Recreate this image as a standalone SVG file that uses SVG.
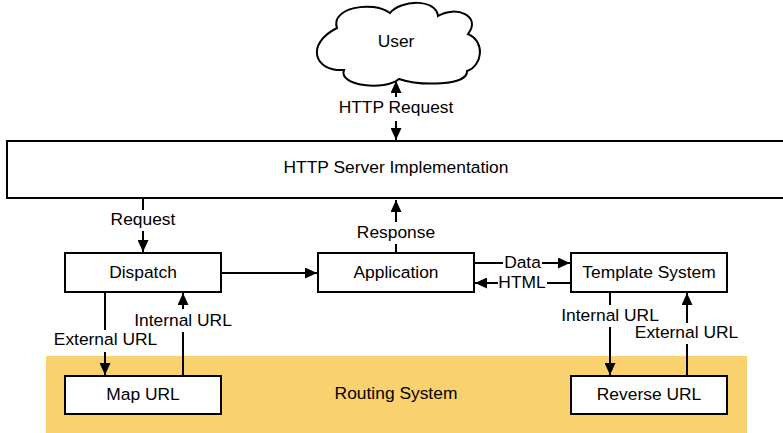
<svg xmlns="http://www.w3.org/2000/svg" width="783" height="433" viewBox="0 0 783 433">
<style>
.box{fill:#fff;stroke:#000;stroke-width:2}
.t{font-family:"Liberation Sans",Arial,sans-serif;font-size:17.4px;fill:#000;text-anchor:middle}
.ln{stroke:#000;stroke-width:2;fill:none}
.bg{fill:#fff}
</style>
<defs>
<marker id="arr" viewBox="0 0 12 11" refX="12" refY="5.5" markerWidth="12" markerHeight="11" markerUnits="userSpaceOnUse" orient="auto-start-reverse">
<path d="M0,0 L12,5.5 L0,11 z" fill="#000"/>
</marker>
</defs>
<rect width="783" height="433" fill="#fff"/>
<g id="routing-system">
<rect x="46" y="356" width="701" height="77" fill="#f9d16e"/>
<text class="t" x="396" y="399">Routing System</text>
</g>
<g id="user">
<path class="box" d="M337,28 C330,8 372,0 390,13 C400,0 436,-2 438,16 C456,5 482,16 468,34 C486,42 482,66 467,71 C468,86 420,86 399,79 C385,91 338,86 344,70 C314,72 305,44 337,28 Z"/>
<text class="t" x="396" y="47">User</text>
</g>
<g id="http-server">
<rect class="box" x="7" y="141" width="790" height="57"/>
<text class="t" x="396" y="173">HTTP Server Implementation</text>
</g>
<g id="dispatch">
<rect class="box" x="65" y="253" width="156" height="39"/>
<text class="t" x="143" y="278">Dispatch</text>
</g>
<g id="application">
<rect class="box" x="318" y="253" width="156" height="39"/>
<text class="t" x="396" y="278">Application</text>
</g>
<g id="template-system">
<rect class="box" x="571" y="253" width="156" height="39"/>
<text class="t" x="649" y="278">Template System</text>
</g>
<g id="map-url">
<rect class="box" x="65" y="376" width="156" height="38"/>
<text class="t" x="143" y="400">Map URL</text>
</g>
<g id="reverse-url">
<rect class="box" x="571" y="376" width="156" height="38"/>
<text class="t" x="649" y="400">Reverse URL</text>
</g>
<g id="connectors">
<line class="ln" x1="396" y1="81" x2="396" y2="140" marker-start="url(#arr)" marker-end="url(#arr)"/>
<rect class="bg" x="337" y="97" width="118" height="24"/>
<text class="t" x="396" y="113">HTTP Request</text>

<line class="ln" x1="143" y1="199" x2="143" y2="252" marker-end="url(#arr)"/>
<rect class="bg" x="109" y="210" width="68" height="21"/>
<text class="t" x="143" y="225">Request</text>

<line class="ln" x1="396" y1="253" x2="396" y2="200" marker-end="url(#arr)"/>
<rect class="bg" x="356" y="222" width="81" height="22"/>
<text class="t" x="396" y="238">Response</text>

<line class="ln" x1="221" y1="273" x2="317" y2="273" marker-end="url(#arr)"/>

<line class="ln" x1="474" y1="263" x2="570" y2="263" marker-end="url(#arr)"/>
<rect class="bg" x="503" y="254" width="39" height="17"/>
<text class="t" x="522.5" y="268">Data</text>

<line class="ln" x1="571" y1="283" x2="475" y2="283" marker-end="url(#arr)"/>
<rect class="bg" x="498" y="274" width="49" height="17"/>
<text class="t" x="522" y="288">HTML</text>

<line class="ln" x1="105" y1="292" x2="105" y2="375" marker-end="url(#arr)"/>
<rect class="bg" x="53" y="330" width="106" height="22"/>
<text class="t" x="105.5" y="345">External URL</text>

<line class="ln" x1="183" y1="376" x2="183" y2="293" marker-end="url(#arr)"/>
<rect class="bg" x="133" y="309" width="100" height="23"/>
<text class="t" x="183" y="326">Internal URL</text>

<line class="ln" x1="610" y1="292" x2="610" y2="375" marker-end="url(#arr)"/>
<rect class="bg" x="560" y="305" width="100" height="22"/>
<text class="t" x="610" y="321">Internal URL</text>

<line class="ln" x1="687" y1="376" x2="687" y2="293" marker-end="url(#arr)"/>
<rect class="bg" x="634" y="323" width="106" height="21"/>
<text class="t" x="686.5" y="338">External URL</text>
</g>
</svg>
